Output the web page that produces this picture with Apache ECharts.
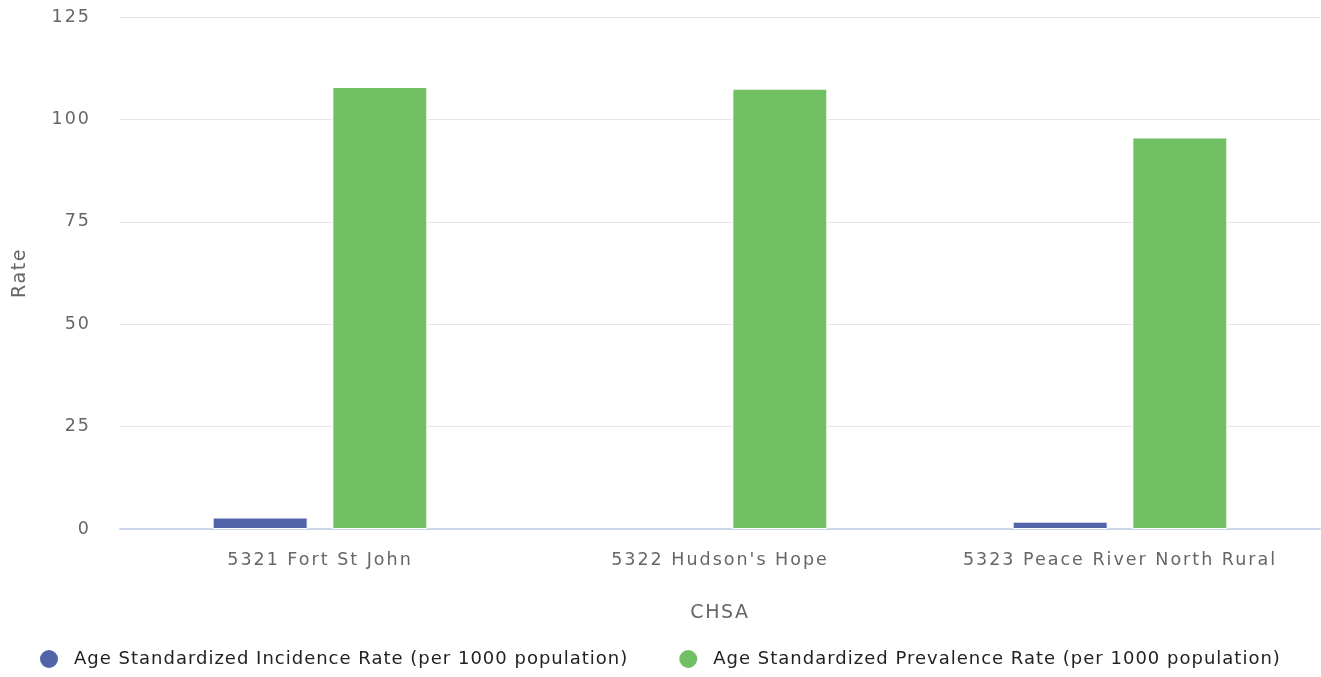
<!DOCTYPE html>
<html>
<head>
<meta charset="utf-8">
<script src="https://cdn.jsdelivr.net/npm/echarts@6/dist/echarts.min.js"></script>
<style>
html,body{margin:0;padding:0;background:#fff;}
#chart{width:1321px;height:677px;}
</style>
</head>
<body>
<div id="chart"></div>
<script>
const categories = ["5321 Fort St John", "5322 Hudson's Hope", "5323 Peace River North Rural"];
const incidence = [2.8, null, 1.8];
const prevalence = [107.9, 107.5, 95.6];
const seriesNames = ["Age Standardized Incidence Rate (per 1000 population)", "Age Standardized Prevalence Rate (per 1000 population)"];
const yTicks = [0, 25, 50, 75, 100, 125];

// letter spacing per font size (canvas), to mimic the wide tracking of the reference
const SPACING = {"17.5": "2px", "19": "1.6px", "18": "1px"};
(function () {
  const proto = CanvasRenderingContext2D.prototype;
  const desc = Object.getOwnPropertyDescriptor(proto, 'font');
  if (!desc || !('letterSpacing' in proto)) return;
  Object.defineProperty(proto, 'font', {
    configurable: true,
    get() { return desc.get.call(this); },
    set(v) {
      desc.set.call(this, v);
      const m = /(\d+(?:\.\d+)?)px/.exec(v);
      const ls = m && SPACING[String(parseFloat(m[1]))];
      this.letterSpacing = ls || '0px';
    }
  });
})();

const FONT = "DejaVu Sans";
const chart = echarts.init(document.getElementById('chart'), null, {renderer: 'canvas'});
chart.setOption({
  animation: false,
  textStyle: {fontFamily: FONT},
  grid: {left: 120, right: 1, top: 17, bottom: 148, containLabel: false, outerBoundsMode: 'none'},
  legend: {
    bottom: 2,
    left: 33,
    itemGap: 49,
    icon: 'circle',
    itemWidth: 30,
    itemHeight: 20,
    textStyle: {fontFamily: FONT, fontSize: 18, color: '#222', padding: [0, 0, 0, 5]},
    data: seriesNames
  },
  xAxis: {
    type: 'category',
    data: categories,
    name: 'CHSA',
    nameLocation: 'middle',
    nameGap: 74,
    nameTextStyle: {fontFamily: FONT, fontSize: 19, color: '#666'},
    axisLine: {lineStyle: {color: '#ccd6eb', width: 2}},
    axisTick: {show: false},
    axisLabel: {fontFamily: FONT, fontSize: 17.5, color: '#666', margin: 21, interval: 0}
  },
  yAxis: {
    type: 'value',
    min: yTicks[0],
    max: yTicks[yTicks.length - 1],
    interval: 25,
    name: 'Rate',
    nameLocation: 'middle',
    nameGap: 90,
    nameRotate: 90,
    nameTextStyle: {fontFamily: FONT, fontSize: 19, color: '#666'},
    axisLine: {show: false},
    axisTick: {show: false},
    splitLine: {lineStyle: {color: '#e6e6e6', width: 1}},
    axisLabel: {fontFamily: FONT, fontSize: 17.5, color: '#666', margin: 29}
  },
  series: [
    {
      name: seriesNames[0],
      type: 'bar',
      data: incidence,
      barWidth: 95,
      barGap: '26%',
      itemStyle: {color: '#5164a9', borderColor: '#fff', borderWidth: 1}
    },
    {
      name: seriesNames[1],
      type: 'bar',
      data: prevalence,
      barWidth: 95,
      barGap: '26%',
      itemStyle: {color: '#72c064', borderColor: '#fff', borderWidth: 1}
    }
  ]
});
</script>
</body>
</html>
